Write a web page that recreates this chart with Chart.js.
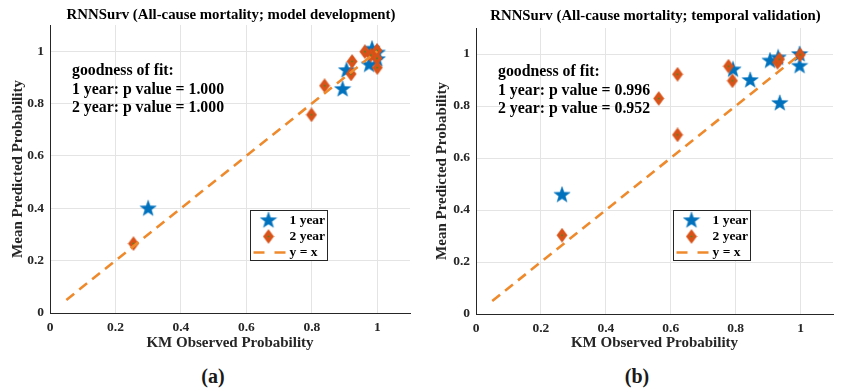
<!DOCTYPE html>
<html><head><meta charset="utf-8">
<script src="https://cdn.jsdelivr.net/npm/chart.js@4.4.1/dist/chart.umd.min.js"></script>
<style>
html,body{margin:0;padding:0;background:#fff;}
#wrap{position:relative;width:843px;height:389px;overflow:hidden;background:#fff;}
canvas{position:absolute;top:0;}
.cap{position:absolute;top:365px;line-height:22px;font:bold 20px 'Liberation Serif',serif;color:#1a1a1a;transform:translateX(-50%);}
</style></head><body>
<div id="wrap">
<canvas id="ca" width="420" height="360" style="left:0"></canvas>
<canvas id="cb" width="423" height="360" style="left:420px"></canvas>
<div class="cap" style="left:213px">(a)</div>
<div class="cap" style="left:637px">(b)</div>
</div>
<script>
// ---- data ----
const AXIS_TICKS = [0, 0.2, 0.4, 0.6, 0.8, 1];
const TICK_LABELS = ['0', '0.2', '0.4', '0.6', '0.8', '1'];
const SERIES_LABELS = ['1 year', '2 year', 'y = x'];
const X_TITLE = 'KM Observed Probability';
const Y_TITLE = 'Mean Predicted Probability';
const TITLE_A = 'RNNSurv (All-cause mortality; model development)';
const TITLE_B = 'RNNSurv (All-cause mortality; temporal validation)';
const FIT_A = ['goodness of fit:', '1 year: p value = 1.000', '2 year: p value = 1.000'];
const FIT_B = ['goodness of fit:', '1 year: p value = 0.996', '2 year: p value = 0.952'];
const REF_X = [0.05, 1.0];
const REF_Y = [0.05, 1.0];

// (a) model development
const devObs1  = [0.300, 0.894, 0.906, 0.975, 0.984, 1.000, 1.000];
const devPred1 = [0.400, 0.856, 0.928, 0.949, 1.010, 0.995, 0.970];
const devObs2  = [0.255, 0.799, 0.839, 0.920, 0.923, 0.962, 0.980, 0.999, 0.999, 1.000];
const devPred2 = [0.265, 0.757, 0.868, 0.913, 0.961, 0.998, 0.985, 1.003, 0.973, 0.937];
// (b) temporal validation
const valObs1  = [0.265, 0.792, 0.845, 0.936, 0.906, 0.931, 0.997, 0.997];
const valPred1 = [0.459, 0.941, 0.900, 0.812, 0.975, 0.987, 1.000, 0.955];
const valObs2  = [0.265, 0.563, 0.621, 0.621, 0.778, 0.790, 0.929, 0.935, 0.999];
const valPred2 = [0.303, 0.829, 0.922, 0.689, 0.953, 0.897, 0.968, 0.980, 0.997];

// ---- styles ----
const BLUE = '#0072BD', RED = '#D95319', ORANGE = '#EF8A2C', TXT = '#262626';
const SERIF = '"Liberation Serif", "Times New Roman", serif';

function makeStar() {
  const c = document.createElement('canvas'); c.width = 18; c.height = 18;
  const g = c.getContext('2d'); const R = 8.6, r = 3.5, cx = 9, cy = 9.4;
  g.beginPath();
  for (let i = 0; i < 10; i++) {
    const rad = i % 2 ? r : R; const a = -Math.PI / 2 + i * Math.PI / 5;
    g.lineTo(cx + rad * Math.cos(a), cy + rad * Math.sin(a));
  }
  g.closePath(); g.fillStyle = BLUE; g.fill();
  g.strokeStyle = 'rgba(0,114,189,0.5)'; g.lineWidth = 0.8; g.stroke();
  return c;
}
function makeDiamond() {
  const c = document.createElement('canvas'); c.width = 12; c.height = 15;
  const g = c.getContext('2d');
  g.beginPath(); g.moveTo(6, 0.5); g.lineTo(11.2, 7.5); g.lineTo(6, 14.5); g.lineTo(0.8, 7.5); g.closePath();
  g.fillStyle = RED; g.fill();
  g.strokeStyle = 'rgba(217,83,25,0.6)'; g.lineWidth = 0.8; g.stroke();
  g.fillStyle = '#3a8a2a'; g.fillRect(5.2, 6.7, 1.6, 1.6);
  return c;
}
const STAR = makeStar(), DIAMOND = makeDiamond();

const pts = (xs, ys) => xs.map((x, i) => ({x, y: ys[i]}));

const overlay = {
  id: 'overlay',
  afterDraw(chart, args, o) {
    const {ctx, chartArea: a} = chart;
    ctx.save();
    ctx.fillStyle = '#000'; ctx.textBaseline = 'middle';
    ctx.font = 'bold 14.8px ' + SERIF; ctx.textAlign = 'center';
    ctx.fillText(o.title, (a.left + a.right) / 2 + 1, o.titleY);
    ctx.font = 'bold 15.8px ' + SERIF; ctx.textAlign = 'left';
    o.fit.forEach((t, i) => ctx.fillText(t, a.left + o.fitDx, a.top + o.fitDy + i * 18.7));
    // legend box
    const bx = a.left + o.lgDx + 0.5, by = a.top + o.lgDy + 0.5, bw = 77, bh = 50;
    ctx.fillStyle = '#fff'; ctx.fillRect(bx, by, bw, bh);
    ctx.strokeStyle = TXT; ctx.lineWidth = 1; ctx.strokeRect(bx, by, bw, bh);
    const rows = [by + 10, by + 26, by + 42];
    ctx.drawImage(STAR, bx + 18 - 9, rows[0] - 9.4);
    ctx.drawImage(DIAMOND, bx + 18 - 6, rows[1] - 7.5);
    ctx.beginPath(); ctx.setLineDash([11, 10]); ctx.strokeStyle = ORANGE; ctx.lineWidth = 2.5;
    ctx.moveTo(bx + 3, rows[2]); ctx.lineTo(bx + 38, rows[2]); ctx.stroke(); ctx.setLineDash([]);
    ctx.fillStyle = '#000'; ctx.font = 'bold 13.5px ' + SERIF;
    SERIES_LABELS.forEach((t, i) => ctx.fillText(t, bx + 39, rows[i] + 0.5));
    ctx.restore();
  }
};

function build(id, d1x, d1y, d2x, d2y, o) {
  const tickFont = {family: SERIF, size: 13.5, weight: 'bold'};
  const titleFont = {family: SERIF, size: 15, weight: 'bold', lineHeight: 1.2};
  new Chart(document.getElementById(id), {
    type: 'scatter',
    data: {datasets: [
      {label: SERIES_LABELS[0], data: pts(d1x, d1y), pointStyle: STAR, pointRadius: 9, order: 3},
      {label: SERIES_LABELS[1], data: pts(d2x, d2y), pointStyle: DIAMOND, pointRadius: 7, order: 2},
      {label: SERIES_LABELS[2], type: 'line', data: pts(REF_X, REF_Y), showLine: true, pointRadius: 0,
       borderColor: ORANGE, borderWidth: 2.6, borderDash: [10, 6.5], fill: false, order: 1}
    ]},
    options: {
      responsive: false, animation: false, events: [],
      layout: {padding: {top: o.top, right: o.right, left: 0, bottom: 0}},
      plugins: {legend: {display: false}, tooltip: {enabled: false}, title: {display: false}, overlay: o},
      scales: {
        x: {type: 'linear', min: 0, max: 1.1,
            afterBuildTicks: s => { s.ticks = AXIS_TICKS.map(v => ({value: v})); },
            afterFit: s => { s.height = o.xh; },
            ticks: {callback: (v, i) => TICK_LABELS[i], font: tickFont, color: TXT, padding: 6, maxRotation: 0},
            grid: {color: '#e4e4e4', drawTicks: false}, border: {color: TXT, width: 1},
            title: {display: true, text: X_TITLE, font: titleFont, color: TXT, padding: {top: 0, bottom: 8}}},
        y: {type: 'linear', min: 0, max: 1.1,
            afterBuildTicks: s => { s.ticks = AXIS_TICKS.map(v => ({value: v})); },
            afterFit: s => { s.width = o.yw; },
            ticks: {callback: (v, i) => TICK_LABELS[i], font: tickFont, color: TXT, padding: 6},
            grid: {color: '#e4e4e4', drawTicks: false}, border: {color: TXT, width: 1},
            title: {display: true, text: Y_TITLE, font: titleFont, color: TXT, padding: {top: o.ytp, bottom: 0}}}
      }
    },
    plugins: [overlay]
  });
}

build('ca', devObs1, devPred1, devObs2, devPred2,
  {title: TITLE_A, titleY: 15, fit: FIT_A, fitDx: 22, fitDy: 46, lgDx: 200, lgDy: 185,
   top: 25, right: 5, xh: 47, yw: 50, ytp: 9});
build('cb', valObs1, valPred1, valObs2, valPred2,
  {title: TITLE_B, titleY: 16, fit: FIT_B, fitDx: 22, fitDy: 44, lgDx: 197, lgDy: 182,
   top: 28, right: 6, xh: 46, yw: 56, ytp: 13.5});
</script>
</body></html>
